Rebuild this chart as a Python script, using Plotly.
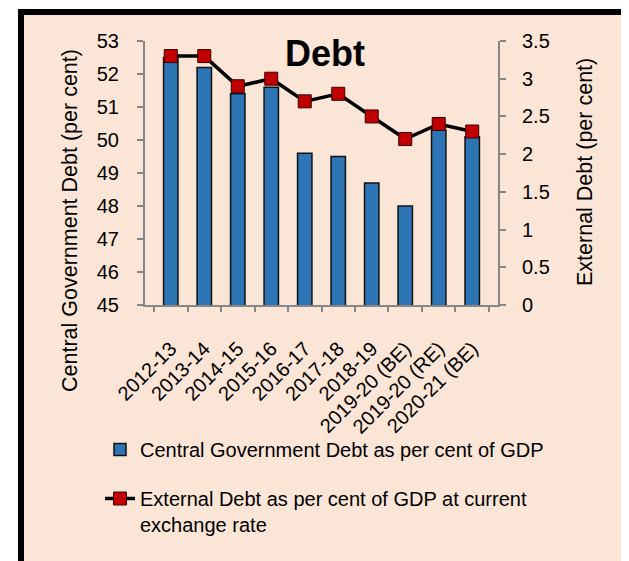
import plotly.graph_objects as go

# ---- data ----
categories = ["2012-13", "2013-14", "2014-15", "2015-16", "2016-17", "2017-18",
              "2018-19", "2019-20 (BE)", "2019-20 (RE)", "2020-21 (BE)"]
central_debt = [52.5, 52.2, 51.4, 51.6, 49.6, 49.5, 48.7, 48.0, 50.3, 50.1]
external_debt = [3.3, 3.3, 2.9, 3.0, 2.7, 2.8, 2.5, 2.2, 2.4, 2.3]
left_ticks = [45, 46, 47, 48, 49, 50, 51, 52, 53]
right_ticks = [0, 0.5, 1, 1.5, 2, 2.5, 3, 3.5]
right_tick_text = ["0", "0.5", "1", "1.5", "2", "2.5", "3", "3.5"]

FONT = "Liberation Sans, Arial, sans-serif"
PEACH = "#FBE5D6"
GREY = "#868686"

# the page body has an 8px margin; work in page pixels and convert
OFF = 8
W, H = 629 - OFF, 561 - OFF
L, R, T, B = 145 - OFF, 498 - OFF, 41 - OFF, 305 - OFF
pw, ph = R - L, B - T


def px(x):
    return (x - OFF - L) / pw


def py(y):
    return (B - (y - OFF)) / ph


fig = go.Figure()
fig.add_trace(go.Bar(
    x=categories, y=central_debt,
    name="Central Government Debt as per cent of GDP",
    marker=dict(color="#2E75B6", line=dict(color="#111111", width=1.5)),
    width=0.43, legendgroup="a",
))
fig.add_trace(go.Scatter(
    x=categories, y=external_debt, yaxis="y2", mode="lines+markers",
    name="External Debt as per cent of GDP at current<br>exchange rate",
    line=dict(color="#000000", width=3.5),
    marker=dict(symbol="square", size=13, color="#C00000",
                line=dict(color="#3a0000", width=1)),
    legendgroup="b",
))

fig.update_layout(
    width=W, height=H,
    margin=dict(l=L, r=W - R, t=T, b=H - B, autoexpand=False),
    paper_bgcolor="white",
    plot_bgcolor="rgba(0,0,0,0)",
    font=dict(family=FONT, size=20, color="#000000"),
    title=dict(text="<b>Debt</b>", font=dict(size=36, family=FONT, color="#000"),
               x=px(325), xref="paper", xanchor="center",
               y=1 - (53 - OFF) / H, yref="container", yanchor="middle"),
    showlegend=True,
    legend=dict(orientation="v", x=px(100), xanchor="left", y=py(430), yanchor="top",
                bgcolor="rgba(0,0,0,0)", font=dict(size=20, family=FONT),
                traceorder="grouped", tracegroupgap=20, valign="top"),
    xaxis=dict(
        type="category", showline=True, linecolor=GREY, linewidth=2,
        ticks="outside", ticklen=5, tickwidth=2, tickcolor=GREY, tickson="boundaries",
        tickangle=-45, tickfont=dict(size=20), showgrid=False, zeroline=False,
        ticklabelstandoff=22,
    ),
    yaxis=dict(
        range=[45, 53], tickvals=left_ticks, showline=True, linecolor=GREY, linewidth=2,
        ticks="outside", ticklen=6, tickwidth=2, tickcolor=GREY, showgrid=False,
        zeroline=False, tickfont=dict(size=20), ticklabelstandoff=14,
    ),
    yaxis2=dict(
        range=[0, 3.5], tickvals=right_ticks, ticktext=right_tick_text, overlaying="y",
        side="right", showline=True, linecolor=GREY, linewidth=2,
        ticks="outside", ticklen=6, tickwidth=2, tickcolor=GREY, showgrid=False,
        zeroline=False, tickfont=dict(size=20), ticklabelstandoff=12,
    ),
    shapes=[dict(type="rect", xref="paper", yref="paper",
                 x0=px(21), x1=px(628), y0=py(12), y1=py(590),
                 fillcolor=PEACH, line=dict(color="#000000", width=6), layer="below")],
    annotations=[
        dict(text="Central Government Debt (per cent)", textangle=-90,
             xref="paper", yref="paper", x=px(70), y=py(221),
             xanchor="center", yanchor="middle", showarrow=False,
             font=dict(size=21.5, family=FONT)),
        dict(text="External Debt (per cent)", textangle=-90,
             xref="paper", yref="paper", x=px(585), y=py(172),
             xanchor="center", yanchor="middle", showarrow=False,
             font=dict(size=21.5, family=FONT)),
    ],
)

fig.write_html("out.html")
